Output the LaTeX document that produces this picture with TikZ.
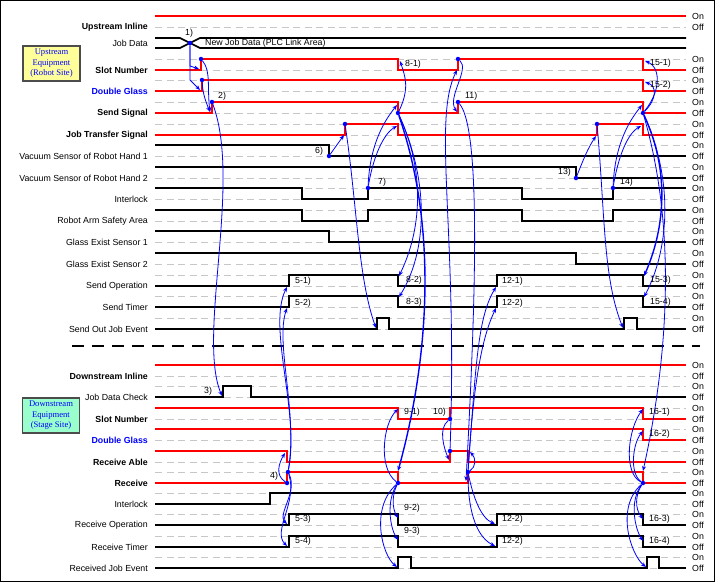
\documentclass[tikz,border=0pt]{standalone}
\usepackage{fontspec}
\setmainfont{Liberation Sans}
\newfontfamily\boxfont{Liberation Serif}
\usetikzlibrary{arrows.meta,positioning,calc}
\definecolor{sigred}{RGB}{255,0,0}
\definecolor{upfill}{RGB}{255,255,153}
\definecolor{dnfill}{RGB}{153,255,204}
\tikzset{
    lvl/.style = {draw=black!22, line width=0.9pt, dash pattern=on 7pt off 4.5pt},
    redsig/.style = {draw=sigred, line width=1.7pt},
    blksig/.style = {draw=black, line width=1.7pt},
    divider/.style = {draw=black, line width=1.8pt, dash pattern=on 12pt off 8pt},
    rowlabel/.style = {anchor=east, inner sep=0pt, font=\fontsize{8.8}{10}\selectfont},
    keylabel/.style = {rowlabel, font=\fontsize{8.8}{10}\selectfont\bfseries},
    levtext/.style = {anchor=west, inner sep=0pt, font=\fontsize{8.8}{10}\selectfont},
    num/.style = {anchor=west, inner sep=0pt, font=\fontsize{8.8}{10}\selectfont},
    eqbox/.style = {draw=black!70, line width=1.4pt, minimum width=57pt, minimum height=35pt, inner sep=1pt, align=center, text=blue, font=\boxfont\fontsize{8.6}{10.5}\selectfont},
    evdot/.style = {circle, fill=blue, inner sep=0pt, minimum size=4.5pt},
    ev/.style = {->, draw=blue, line width=0.8pt},
    evthick/.style = {ev, line width=1.4pt},
    >={Stealth[length=5pt,width=4pt]},
}

\begin{document}
\begin{tikzpicture}[x=1pt, y=-1pt]
    \useasboundingbox (0,0) rectangle (715,582);
    \draw[line width=1.4pt] (0.7,0.7) rectangle (714.3,581.3);

    % level grid with On / Off
    \foreach \y [count=\i] in {16,59,80,102,124,145,167,188,210,231,253,275,296,318,365,386,408,429,451,472,493,514,536,557}{
        \draw[lvl] (155,\y) -- (686,\y);
        \draw[lvl] (155,\y+11) -- (686,\y+11);
        \node[levtext] (on\i) at (692,\y) {On};
        \node[levtext] (off\i) at (692,\y+11) {Off};
    }

    % equipment boxes
    \node[eqbox, fill=upfill] (upBox) at (51.5,63.5) {Upstream\\Equipment\\(Robot Site)};
    \node[eqbox, fill=dnfill] (dnBox) at (51,415.5) {Downstream\\Equipment\\(Stage Site)};

    % row labels, upstream
    \node[keylabel] (upInline) at (148,27) {Upstream Inline};
    \node[rowlabel] (jobData) at (148,43) {Job Data};
    \node[keylabel] (upSlot) at (148,70) {Slot Number};
    \node[keylabel, text=blue] (upDouble) at (148,91) {Double Glass};
    \node[keylabel] (sendSig) at (148,113) {Send Signal};
    \node[keylabel] (jobTrans) at (148,135) {Job Transfer Signal};
    \node[rowlabel] (vacOne) at (148,156) {Vacuum Sensor of Robot Hand 1};
    \node[rowlabel] (vacTwo) at (148,178) {Vacuum Sensor of Robot Hand 2};
    \node[rowlabel] (upLock) at (148,199) {Interlock};
    \node[rowlabel] (armArea) at (148,221) {Robot Arm Safety Area};
    \node[rowlabel] (glassOne) at (148,242) {Glass Exist Sensor 1};
    \node[rowlabel] (glassTwo) at (148,264) {Glass Exist Sensor 2};
    \node[rowlabel] (sendOp) at (148,286) {Send Operation};
    \node[rowlabel] (sendTim) at (148,307) {Send Timer};
    \node[rowlabel] (sendEv) at (148,329) {Send Out Job Event};

    % row labels, downstream
    \node[keylabel] (dnInline) at (148,376) {Downstream Inline};
    \node[rowlabel] (jobCheck) at (148,397) {Job Data Check};
    \node[keylabel] (dnSlot) at (148,419) {Slot Number};
    \node[keylabel, text=blue] (dnDouble) at (148,440) {Double Glass};
    \node[keylabel] (recvAble) at (148,462) {Receive Able};
    \node[keylabel] (recv) at (148,483) {Receive};
    \node[rowlabel] (dnLock) at (148,504) {Interlock};
    \node[rowlabel] (recvOp) at (148,525) {Receive Operation};
    \node[rowlabel] (recvTim) at (148,547) {Receive Timer};
    \node[rowlabel] (recvEv) at (148,568) {Received Job Event};

    % upstream waveforms
    \draw[redsig] (155,16) -- (686,16);
    \draw[blksig] (155,38) -- (180,38) -- (200,48) -- (686,48);
    \draw[blksig] (155,48) -- (180,48) -- (200,38) -- (686,38);
    \node[num] (newData) at (205,43) {New Job Data (PLC Link Area)};
    \draw[redsig] (155,70) -| (201,59) -| (398,70) -| (458,59) -| (643,70) -- (686,70);
    \draw[redsig] (155,91) -| (202,80) -| (643,91) -- (686,91);
    \draw[redsig] (155,113) -| (212,102) -| (398,113) -| (458,102) -| (643,113) -- (686,113);
    \draw[redsig] (155,135) -| (345,124) -| (398,135) -| (597,124) -| (643,135) -- (686,135);
    \draw[blksig] (155,145) -| (329,156) -- (686,156);
    \draw[blksig] (155,167) -| (576,178) -- (686,178);
    \draw[blksig] (155,188) -| (302,199) -| (368,188) -| (522,199) -| (613,188) -- (686,188);
    \draw[blksig] (155,210) -| (302,221) -| (368,210) -| (522,221) -| (613,210) -- (686,210);
    \draw[blksig] (155,231) -| (329,242) -- (686,242);
    \draw[blksig] (155,253) -| (576,264) -- (686,264);
    \draw[blksig] (155,286) -| (289,275) -| (398,286) -| (497,275) -| (643,286) -- (686,286);
    \draw[blksig] (155,307) -| (289,296) -| (398,307) -| (497,296) -| (643,307) -- (686,307);
    \draw[blksig] (155,329) -| (377,318) -| (389,329) -| (624,318) -| (637,329) -- (686,329);

    \draw[divider] (72,346) -- (700,346);

    % downstream waveforms
    \draw[redsig] (155,365) -- (686,365);
    \draw[blksig] (155,397) -| (223,386) -| (251,397) -- (686,397);
    \draw[redsig] (155,408) -| (398,419) -| (450,408) -| (643,419) -- (686,419);
    \draw[redsig] (155,429) -| (643,440) -- (686,440);
    \draw[redsig] (155,451) -| (287,462) -| (450,451) -| (468,462) -- (686,462);
    \draw[redsig] (155,483) -| (287,472) -| (398,483) -| (468,472) -| (643,483) -- (686,483);
    \draw[blksig] (155,504) -| (270,493) -- (686,493);
    \draw[blksig] (155,525) -| (289,514) -| (398,525) -| (497,514) -| (643,525) -- (686,525);
    \draw[blksig] (155,547) -| (289,536) -| (398,547) -| (497,536) -| (643,547) -- (686,547);
    \draw[blksig] (155,568) -| (398,557) -| (411,568) -| (647,557) -| (659,568) -- (686,568);

    % event dots
    \node[evdot] (jd) at (190,43) {};
    \node[evdot] (slotA) at (201,59) {};
    \node[evdot] (dblA) at (202,80) {};
    \node[evdot] (sendA) at (212,102) {};
    \node[evdot] (vacA) at (329,156) {};
    \node[evdot] (jtA) at (345,124) {};
    \node[evdot] (lockA) at (368,188) {};
    \node[evdot] (sendB) at (398,113) {};
    \node[evdot] (slotB) at (458,59) {};
    \node[evdot] (sendC) at (458,102) {};
    \node[evdot] (vacB) at (576,178) {};
    \node[evdot] (jtB) at (597,124) {};
    \node[evdot] (lockB) at (613,188) {};
    \node[evdot] (sendD) at (643,113) {};
    \node[evdot] (rcvA) at (287,483) {};
    \node[evdot] (rcvB) at (288,472) {};
    \node[evdot] (rcvC) at (398,483) {};
    \node[evdot] (dslotA) at (450,419) {};
    \node[evdot] (ableA) at (450,451) {};
    \node[evdot] (rcvD) at (468,472) {};
    \node[evdot] (rcvE) at (643,483) {};

    % arrow ends
    \coordinate (slotRise) at (199,69);
    \coordinate (dblRise) at (200,90);
    \coordinate (sendRise) at (210,112);
    \coordinate (checkRise) at (222,396);
    \coordinate (ableFall) at (285,453);
    \coordinate (sopRise) at (287,287);
    \coordinate (stmRise) at (287,308);
    \coordinate (ropRise) at (287,524);
    \coordinate (rtmRise) at (287,546);
    \coordinate (jtRise) at (344,135);
    \coordinate (evRise) at (376,328);
    \coordinate (sendFall) at (397,105);
    \coordinate (jtFall) at (397,126);
    \coordinate (slotFall) at (400,61);
    \coordinate (sopFall) at (399,276);
    \coordinate (stmFall) at (399,297);
    \coordinate (rcvFall) at (398,471);
    \coordinate (dslotFall) at (398,409);
    \coordinate (ropFall) at (398,518);
    \coordinate (rtmFall) at (398,540);
    \coordinate (revRise) at (397,567);
    \coordinate (ableRise) at (449,460);
    \coordinate (slotRise2) at (457,70);
    \coordinate (sendRise2) at (457,112);
    \coordinate (rcvRise) at (466,481);
    \coordinate (ableFall2) at (470,452);
    \coordinate (sopRise2) at (496,287);
    \coordinate (stmRise2) at (496,308);
    \coordinate (ropRise2) at (495,524);
    \coordinate (rtmRise2) at (495,546);
    \coordinate (jtRise2) at (596,136);
    \coordinate (evRise2) at (623,328);
    \coordinate (sendFall2) at (642,105);
    \coordinate (jtFall2) at (641,126);
    \coordinate (slotFall2) at (645,61);
    \coordinate (dblFall2) at (645,82);
    \coordinate (sopFall2) at (644,276);
    \coordinate (stmFall2) at (644,297);
    \coordinate (rcvFall2) at (643,471);
    \coordinate (dslotFall2) at (643,409);
    \coordinate (ddblFall) at (643,431);
    \coordinate (ropFall2) at (643,519);
    \coordinate (rtmFall2) at (643,541);
    \coordinate (revRise2) at (646,567);

    % event arrows
    \draw[ev] (jd) -- ++(0,23) -- (slotRise);
    \draw[ev] (jd) -- ++(0,37) -- (dblRise);
    \draw[ev] (slotA) .. controls +(10,12) and +(-3,-25) .. (sendRise);
    \draw[ev] (dblA) .. controls +(1,15) and +(-4,-10) .. (sendRise);
    \draw[ev] (sendA) .. controls +(30,80) and +(-25,-60) .. (checkRise);
    \draw[ev] (rcvA) .. controls +(-12,-8) and +(-6,10) .. (ableFall);
    \draw[ev] (rcvB) .. controls +(12,-60) and +(-20,40) .. (sopRise);
    \draw[ev] (rcvB) .. controls +(10,-60) and +(-12,35) .. (stmRise);
    \draw[ev] (rcvB) .. controls +(10,20) and +(-10,-10) .. (ropRise);
    \draw[ev] (rcvB) .. controls +(10,30) and +(-15,-15) .. (rtmRise);
    \draw[ev] (vacA) -- (jtRise);
    \draw[ev] (jtA) .. controls +(12,80) and +(-18,-50) .. (evRise);
    \draw[ev] (lockA) .. controls +(2,-45) and +(-12,15) .. (sendFall);
    \draw[ev] (lockA) .. controls +(5,-30) and +(-14,8) .. (jtFall);
    \draw[ev] (sendB) .. controls +(12,-25) and +(5,15) .. (slotFall);
    \draw[evthick] (sendB) .. controls +(45,130) and +(25,-90) .. (rcvFall);
    \draw[ev] (sendB) .. controls +(28,60) and +(22,-45) .. (sopFall);
    \draw[ev] (sendB) .. controls +(32,70) and +(28,-45) .. (stmFall);
    \draw[ev] (rcvC) .. controls +(-20,-15) and +(-15,15) .. (dslotFall);
    \draw[ev] (rcvC) .. controls +(-6,12) and +(-6,-10) .. (ropFall);
    \draw[ev] (rcvC) .. controls +(-12,18) and +(-8,-12) .. (rtmFall);
    \draw[ev] (rcvC) .. controls +(-28,25) and +(-15,-12) .. (revRise);
    \draw[ev] (dslotA) .. controls +(-12,10) and +(-5,-12) .. (ableRise);
    \draw[ev] (ableA) .. controls +(8,-220) and +(-25,50) .. (slotRise2);
    \draw[ev] (slotB) .. controls +(12,10) and +(-10,-15) .. (sendRise2);
    \draw[ev] (sendC) .. controls +(25,30) and +(8,-150) .. (rcvRise);
    \draw[ev] (rcvD) .. controls +(8,-5) and +(6,6) .. (ableFall2);
    \draw[ev] (rcvD) .. controls +(8,-110) and +(-18,30) .. (sopRise2);
    \draw[ev] (rcvD) .. controls +(6,-100) and +(-12,25) .. (stmRise2);
    \draw[ev] (rcvD) .. controls +(5,25) and +(-14,-6) .. (ropRise2);
    \draw[ev] (rcvD) .. controls +(0,45) and +(-16,-8) .. (rtmRise2);
    \draw[ev] (vacB) .. controls +(8,-20) and +(-8,12) .. (jtRise2);
    \draw[ev] (jtB) .. controls +(8,90) and +(-20,-50) .. (evRise2);
    \draw[ev] (lockB) .. controls +(2,-45) and +(-12,15) .. (sendFall2);
    \draw[ev] (lockB) .. controls +(5,-30) and +(-14,8) .. (jtFall2);
    \draw[ev] (sendD) .. controls +(20,-25) and +(14,5) .. (slotFall2);
    \draw[ev] (sendD) .. controls +(14,-14) and +(12,4) .. (dblFall2);
    \draw[evthick] (sendD) .. controls +(28,60) and +(20,-45) .. (sopFall2);
    \draw[ev] (sendD) .. controls +(32,70) and +(24,-45) .. (stmFall2);
    \draw[ev] (sendD) .. controls +(38,130) and +(20,-90) .. (rcvFall2);
    \draw[ev] (rcvE) .. controls +(-20,-10) and +(-15,20) .. (dslotFall2);
    \draw[ev] (rcvE) .. controls +(-14,-10) and +(-10,12) .. (ddblFall);
    \draw[ev] (rcvE) .. controls +(-8,12) and +(-8,-10) .. (ropFall2);
    \draw[ev] (rcvE) .. controls +(-14,18) and +(-8,-12) .. (rtmFall2);
    \draw[ev] (rcvE) .. controls +(-28,25) and +(-15,-12) .. (revRise2);

    % step numbers
    \node[num] (s1) at (185,33) {1)};
    \node[num] (s2) at (218,96) {2)};
    \node[num] (s3) at (204,391) {3)};
    \node[num] (s4) at (270,476) {4)};
    \node[num] (s51) at (295,281) {5-1)};
    \node[num] (s52) at (295,303) {5-2)};
    \node[num] (s53) at (295,519) {5-3)};
    \node[num] (s54) at (295,541) {5-4)};
    \node[num] (s6) at (315,151) {6)};
    \node[num] (s7) at (378,182) {7)};
    \node[num] (s81) at (405,64) {8-1)};
    \node[num] (s82) at (406,280) {8-2)};
    \node[num] (s83) at (406,302) {8-3)};
    \node[num] (s91) at (404,412) {9-1)};
    \node[num] (s92) at (404,508) {9-2)};
    \node[num] (s93) at (404,531) {9-3)};
    \node[num] (s10) at (433,412) {10)};
    \node[num] (s11) at (465,96) {11)};
    \node[num] (s121) at (502,281) {12-1)};
    \node[num] (s122) at (502,303) {12-2)};
    \node[num] (s123) at (502,519) {12-2)};
    \node[num] (s124) at (502,541) {12-2)};
    \node[num] (s13) at (558,172) {13)};
    \node[num] (s14) at (620,182) {14)};
    \node[num] (s151) at (650,63) {15-1)};
    \node[num] (s152) at (650,85) {15-2)};
    \node[num] (s153) at (650,280) {15-3)};
    \node[num] (s154) at (650,302) {15-4)};
    \node[num] (s161) at (649,412) {16-1)};
    \node[num] (s162) at (649,434) {16-2)};
    \node[num] (s163) at (649,519) {16-3)};
    \node[num] (s164) at (649,541) {16-4)};
\end{tikzpicture}
\end{document}
